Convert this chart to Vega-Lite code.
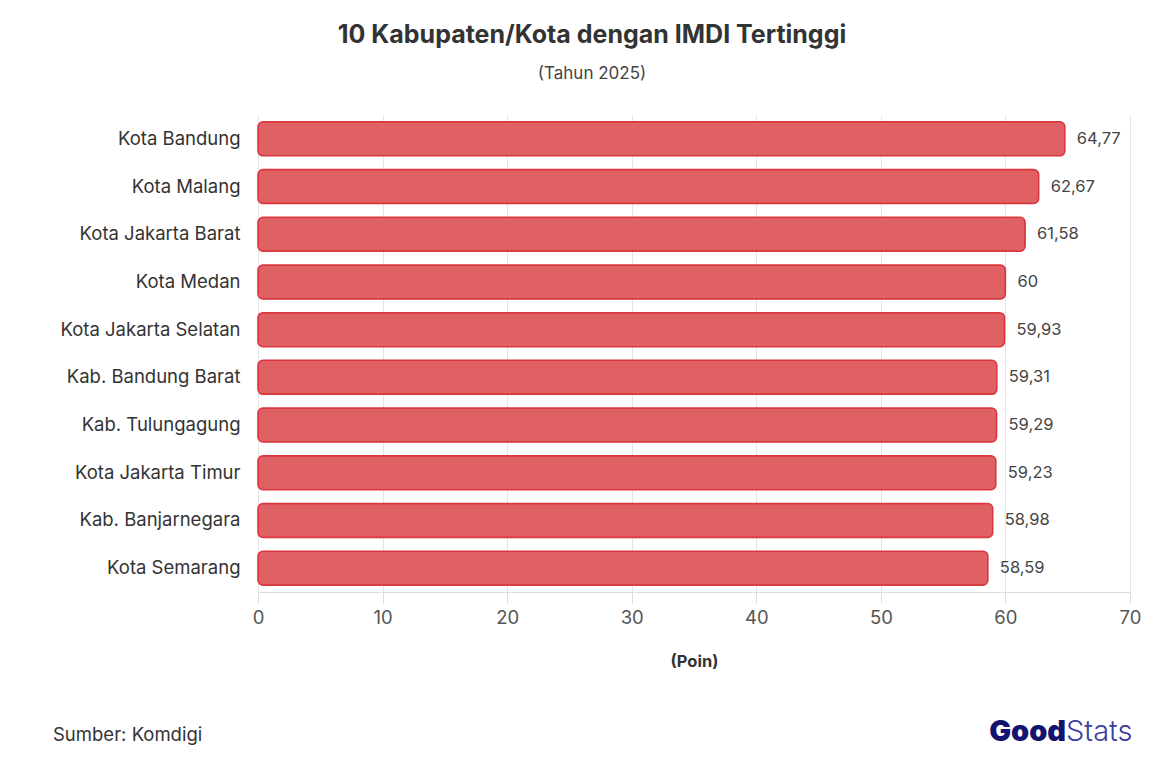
{
  "$schema": "https://vega.github.io/schema/vega-lite/v6.json",
  "autosize": {"type": "none"},
  "width": 872,
  "height": 477,
  "padding": {"left": 258, "top": 115, "right": 41, "bottom": 166},
  "background": "white",
  "config": {"view": {"stroke": "transparent", "strokeWidth": 0}},
  "title": {
    "text": "10 Kabupaten/Kota dengan IMDI Tertinggi",
    "subtitle": "(Tahun 2025)",
    "anchor": "middle",
    "dx": -102,
    "offset": 33,
    "font": "Inter",
    "fontSize": 25,
    "fontWeight": "bold",
    "color": "#333333",
    "subtitleFont": "Inter",
    "subtitleFontSize": 17,
    "subtitleColor": "#444444",
    "subtitlePadding": 18
  },
  "data": {
    "values": [
      {"wilayah": "Kota Bandung", "nilai": 64.77, "label": "64,77"},
      {"wilayah": "Kota Malang", "nilai": 62.67, "label": "62,67"},
      {"wilayah": "Kota Jakarta Barat", "nilai": 61.58, "label": "61,58"},
      {"wilayah": "Kota Medan", "nilai": 60, "label": "60"},
      {"wilayah": "Kota Jakarta Selatan", "nilai": 59.93, "label": "59,93"},
      {"wilayah": "Kab. Bandung Barat", "nilai": 59.31, "label": "59,31"},
      {"wilayah": "Kab. Tulungagung", "nilai": 59.29, "label": "59,29"},
      {"wilayah": "Kota Jakarta Timur", "nilai": 59.23, "label": "59,23"},
      {"wilayah": "Kab. Banjarnegara", "nilai": 58.98, "label": "58,98"},
      {"wilayah": "Kota Semarang", "nilai": 58.59, "label": "58,59"}
    ]
  },
  "encoding": {
    "y": {
      "field": "wilayah",
      "type": "nominal",
      "sort": null,
      "scale": {"paddingInner": 0.287, "paddingOuter": 0.1435},
      "axis": {
        "title": null,
        "domain": false,
        "ticks": false,
        "labelPadding": 18,
        "labelFont": "Inter",
        "labelFontSize": 18.5,
        "labelColor": "#333333",
        "grid": false
      }
    },
    "x": {
      "field": "nilai",
      "type": "quantitative",
      "scale": {"domain": [0, 70], "nice": false},
      "axis": {
        "title": "(Poin)",
        "titleFont": "Inter",
        "titleFontSize": 16.5,
        "titleFontWeight": "bold",
        "titleColor": "#333333",
        "titlePadding": 27,
        "values": [0, 10, 20, 30, 40, 50, 60, 70],
        "labelFlush": false,
        "grid": true,
        "gridColor": "#e4e4e4",
        "domainColor": "#dddddd",
        "tickColor": "#dddddd",
        "tickSize": 11,
        "labelPadding": 5,
        "labelFont": "Inter",
        "labelFontSize": 18.5,
        "labelColor": "#555555"
      }
    }
  },
  "layer": [
    {
      "mark": {
        "type": "bar",
        "cornerRadius": 5,
        "fill": "#e06163",
        "stroke": "#d9363e",
        "strokeWidth": 1.5
      }
    },
    {
      "mark": {
        "type": "text",
        "align": "left",
        "baseline": "middle",
        "dx": 12,
        "font": "Inter",
        "fontSize": 16.5,
        "color": "#444444"
      },
      "encoding": {"text": {"field": "label"}}
    },
    {
      "data": {"values": [{"t": "Sumber: Komdigi"}]},
      "mark": {
        "type": "text",
        "align": "left",
        "baseline": "middle",
        "font": "Inter",
        "fontSize": 18.5,
        "color": "#333333"
      },
      "encoding": {
        "x": {"value": -205},
        "y": {"value": 620},
        "text": {"field": "t"}
      }
    },
    {
      "data": {"values": [{"t": "Good"}]},
      "mark": {
        "type": "text",
        "align": "right",
        "baseline": "middle",
        "font": "Inter",
        "fontSize": 29,
        "fontWeight": 900,
        "color": "#14146e"
      },
      "encoding": {
        "x": {"value": 808},
        "y": {"value": 617},
        "text": {"field": "t"}
      }
    },
    {
      "data": {"values": [{"t": "Stats"}]},
      "mark": {
        "type": "text",
        "align": "left",
        "baseline": "middle",
        "font": "Inter",
        "fontSize": 29,
        "fontWeight": 300,
        "color": "#3c3ca0"
      },
      "encoding": {
        "x": {"value": 808},
        "y": {"value": 617},
        "text": {"field": "t"}
      }
    }
  ]
}
